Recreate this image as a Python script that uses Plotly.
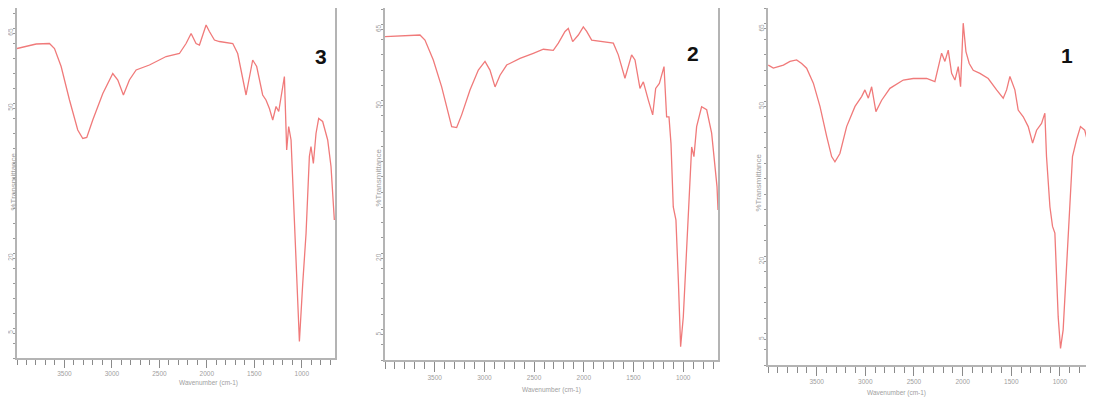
import plotly.graph_objects as go

# ---- data (wavenumber cm-1, % transmittance) ----
wn3 = [4000, 3904, 3798, 3658, 3605, 3535, 3447, 3360, 3307, 3265, 3202, 3096, 2991, 2938, 2879,
       2816, 2745, 2605, 2429, 2289, 2219, 2166, 2114, 2078, 2043, 2008, 1973, 1920, 1868, 1727,
       1675, 1587, 1517, 1475, 1412, 1377, 1341, 1306, 1271, 1243, 1183, 1159, 1138, 1113, 1078,
       1050, 1025, 990, 955, 920, 903, 878, 850, 822, 780, 727, 692, 657]
t3 = [61.9, 62.3, 62.8, 62.9, 61.9, 58.3, 51.6, 45.6, 43.9, 44.1, 47.6, 52.9, 56.9, 55.6, 52.6,
      55.6, 57.6, 58.6, 60.3, 60.9, 62.9, 64.9, 62.9, 62.6, 64.6, 66.6, 65.3, 63.6, 63.3, 62.9,
      60.9, 52.6, 59.6, 58.3, 52.6, 51.6, 49.9, 47.6, 50.3, 49.3, 56.3, 41.6, 46.3, 43.6, 27.6,
      14.9, 3.3, 14.9, 24.9, 40.3, 42.3, 38.9, 44.9, 47.9, 47.3, 43.6, 38.3, 27.6]

wn2 = [4000, 3816, 3648, 3598, 3514, 3430, 3363, 3329, 3279, 3229, 3145, 3061, 2994, 2944, 2893,
       2843, 2776, 2642, 2508, 2407, 2307, 2256, 2189, 2156, 2112, 2055, 2005, 1971, 1921, 1804,
       1703, 1653, 1586, 1519, 1485, 1435, 1401, 1351, 1307, 1277, 1240, 1193, 1167, 1143, 1123,
       1100, 1073, 1049, 1026, 999, 949, 915, 892, 865, 815, 764, 714, 660, 650]
t2 = [63.6, 63.7, 63.9, 62.9, 59.0, 53.7, 48.5, 45.9, 45.7, 48.2, 53.1, 57.0, 58.7, 57.0, 53.7,
      56.0, 58.0, 59.3, 60.3, 61.1, 60.9, 62.3, 64.6, 65.2, 62.6, 63.9, 65.5, 64.6, 62.9, 62.6,
      62.3, 60.0, 55.4, 60.0, 59.0, 53.4, 54.7, 51.1, 48.2, 53.4, 54.4, 57.7, 47.8, 47.8, 42.6,
      30.1, 27.5, 15.7, 2.6, 8.5, 28.8, 41.9, 40.0, 45.9, 49.8, 49.2, 44.6, 34.1, 29.5]

wn1 = [3997, 3945, 3894, 3842, 3774, 3706, 3654, 3603, 3534, 3466, 3397, 3346, 3312, 3261, 3192,
       3106, 3038, 3004, 2969, 2935, 2891, 2832, 2747, 2610, 2507, 2370, 2285, 2250, 2216, 2182,
       2148, 2113, 2079, 2045, 2021, 1994, 1966, 1932, 1891, 1822, 1737, 1651, 1583, 1548, 1514,
       1463, 1429, 1377, 1326, 1281, 1240, 1189, 1155, 1138, 1103, 1076, 1052, 1018, 994, 967,
       915, 871, 830, 789, 745, 693, 658]
t1 = [58.0, 57.4, 57.7, 58.0, 58.7, 59.0, 58.3, 57.4, 54.5, 50.0, 44.2, 40.3, 39.3, 40.9, 46.1,
      50.0, 51.9, 53.2, 51.6, 53.8, 49.0, 51.2, 53.5, 55.1, 55.4, 55.4, 54.8, 57.7, 60.3, 58.7,
      60.9, 56.4, 55.1, 57.7, 53.8, 66.1, 60.6, 58.3, 57.0, 56.4, 55.4, 53.2, 51.6, 53.2, 55.8,
      53.2, 49.3, 48.0, 46.1, 42.9, 45.4, 46.7, 48.7, 40.3, 30.6, 26.8, 25.5, 9.3, 3.2, 6.8,
      25.5, 40.3, 43.5, 46.1, 45.4, 41.6, 34.5]

panel_labels = ["3", "2", "1"]
x_ticks = [3500, 3000, 2500, 2000, 1500, 1000]
y_ticks = [5, 20, 50, 65]
x_title = "Wavenumber (cm-1)"
y_title = "%Transmittance"

PAGE_W, PAGE_H = 1094, 413
OFF = 8                      # default body margin of the html page
W, H = PAGE_W - 2 * OFF, PAGE_H - 2 * OFF
X0, X1 = 4000, 650           # wavenumber span of a full panel
Y0, Y1 = 0, 70

# page-pixel boxes (left, right, top, bottom)
boxes = [(17, 335, 8, 358), (385, 718, 4, 360), (768, 1094, 3, 365)]
label_pos = [(313, 43), (693, 40), (1075, 42)]
xtitle_pos = [(177, 389), (551, 396), (928, 399)]
ytitle_pos = [(8, 182), (372, 178), (752, 183)]   # left edge of the rotated title
xticklen = [8, 10, 9]
series = [(wn3, t3), (wn2, t2), (wn1, t1)]

fig = go.Figure()
line_col = "#b4b4b4"
grey = "#a0a0a0"
tick_font = dict(family="Arial", size=6.5, color=grey)


def px(x, y):
    return (x - OFF) / W, 1 - (y - OFF) / H


for i, ((wn, tv), (l, r, t, b)) in enumerate(zip(series, boxes)):
    n = "" if i == 0 else str(i + 1)
    lc, rc = max(l, OFF), min(r, OFF + W)
    tc, bc = max(t, OFF), min(b, OFF + H)
    xr = [X0 - (lc - l) / (r - l) * (X0 - X1), X0 - (rc - l) / (r - l) * (X0 - X1)]
    yr = [Y0 + (b - bc) / (b - t) * (Y1 - Y0), Y0 + (b - tc) / (b - t) * (Y1 - Y0)]
    cut_right = rc < r
    fig.add_trace(go.Scatter(x=wn, y=tv, mode="lines", xaxis="x" + n, yaxis="y" + n,
                             line=dict(color="#f07a7a", width=1.3), showlegend=False,
                             hoverinfo="skip"))
    xd = [(lc - OFF) / W, (rc - OFF) / W]
    yd = [1 - (bc - OFF) / H, 1 - (tc - OFF) / H]
    fig.layout["xaxis" + n] = dict(
        domain=xd, anchor="y" + n, range=xr, showgrid=False, zeroline=False,
        automargin=False,
        showline=True, linecolor=line_col, linewidth=1.5, mirror=True,
        ticks="outside", ticklen=xticklen[i], tickcolor="#8a8a8a", tickvals=x_ticks,
        tickfont=tick_font,
        minor=dict(ticks="outside", ticklen=xticklen[i] - 3, dtick=100, tickcolor="#8a8a8a",
                   showgrid=False),
    )
    fig.layout["yaxis" + n] = dict(
        domain=yd, anchor="x" + n, range=yr, showgrid=False, zeroline=False,
        automargin=False,
        showline=True, linecolor=line_col, linewidth=1.5, mirror=(False if cut_right else True),
        ticks="outside", ticklen=2, tickcolor="#9a9a9a", tickvals=y_ticks, tickangle=-90,
        tickfont=tick_font, ticklabelstandoff=-2,
        minor=dict(ticks="outside", ticklen=2, dtick=3, tickcolor="#9a9a9a", showgrid=False),
    )
    lx, ly = px(*label_pos[i])
    fig.add_annotation(x=lx, y=ly, xref="paper", yref="paper",
                       text="<b>" + panel_labels[i] + "</b>", showarrow=False,
                       font=dict(family="Arial", size=21, color="#111111"))
    tx, ty = px(*xtitle_pos[i])
    fig.add_annotation(x=tx, y=ty, xref="paper", yref="paper", text=x_title, showarrow=False,
                       font=dict(family="Arial", size=6.5, color=grey))
    tx, ty = px(*ytitle_pos[i])
    fig.add_annotation(x=tx, y=ty, xref="paper", yref="paper", text=y_title, showarrow=False,
                       textangle=-90, xanchor="left", borderpad=0,
                       font=dict(family="Arial", size=8, color=grey))

fig.update_layout(width=W, height=H, margin=dict(l=0, r=0, t=0, b=0),
                  paper_bgcolor="white", plot_bgcolor="white")
fig.write_html("out.html")
